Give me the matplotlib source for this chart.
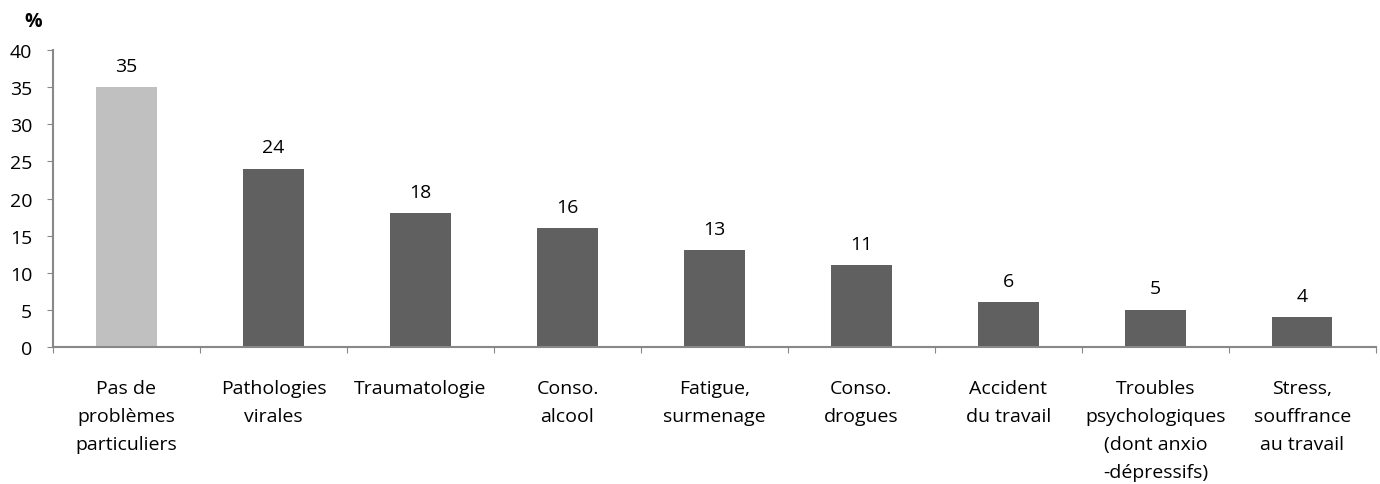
import matplotlib
matplotlib.use("Agg")
import matplotlib.pyplot as plt

categories = [
    "Pas de\nproblèmes\nparticuliers",
    "Pathologies\nvirales",
    "Traumatologie",
    "Conso.\nalcool",
    "Fatigue,\nsurmenage",
    "Conso.\ndrogues",
    "Accident\ndu travail",
    "Troubles\npsychologiques\n(dont anxio\n-dépressifs)",
    "Stress,\nsouffrance\nau travail",
]
values = [35, 24, 18, 16, 13, 11, 6, 5, 4]
colors = ["#C0C0C0"] + ["#606060"] * 8
yticks = [0, 5, 10, 15, 20, 25, 30, 35, 40]

plt.rcParams["font.family"] = ["Open Sans", "DejaVu Sans"]
FS = 14

fig = plt.figure(figsize=(13.8, 4.85), dpi=100)
ax = fig.add_axes([0.0384, 0.2825, 0.9586, 0.6123])

x = list(range(len(values)))
ax.bar(x, values, width=0.41, color=colors, zorder=2)
for xi, v in zip(x, values):
    ax.annotate(f"{v}", (xi, v), xytext=(0, 9), textcoords="offset points",
                ha="center", va="bottom", fontsize=FS, color="#000000")

ax.set_xlim(-0.5, len(values) - 0.5)
ax.set_ylim(0, 40)
ax.set_yticks(yticks)
ax.set_yticklabels([str(t) for t in yticks], fontsize=FS)

# category labels centred under bars, tick marks on category boundaries
ax.set_xticks([i + 0.5 for i in range(-1, len(values))])
ax.set_xticklabels([])
ax.tick_params(axis="x", length=4, color="#888888", direction="out")
ax.tick_params(axis="y", length=4, color="#888888", direction="out", pad=11)
for xi, lab in zip(x, categories):
    ax.annotate(lab, (xi, 0), xytext=(0, -23), textcoords="offset points",
                ha="center", va="top", fontsize=FS, linespacing=1.72,
                annotation_clip=False)

for s in ["top", "right"]:
    ax.spines[s].set_visible(False)
for s in ["left", "bottom"]:
    ax.spines[s].set_color("#888888")
    ax.spines[s].set_linewidth(1.5)

fig.text(0.024, 0.955, "%", fontsize=FS, fontweight="bold", ha="center", va="center")

fig.savefig("out.png", dpi=100)
